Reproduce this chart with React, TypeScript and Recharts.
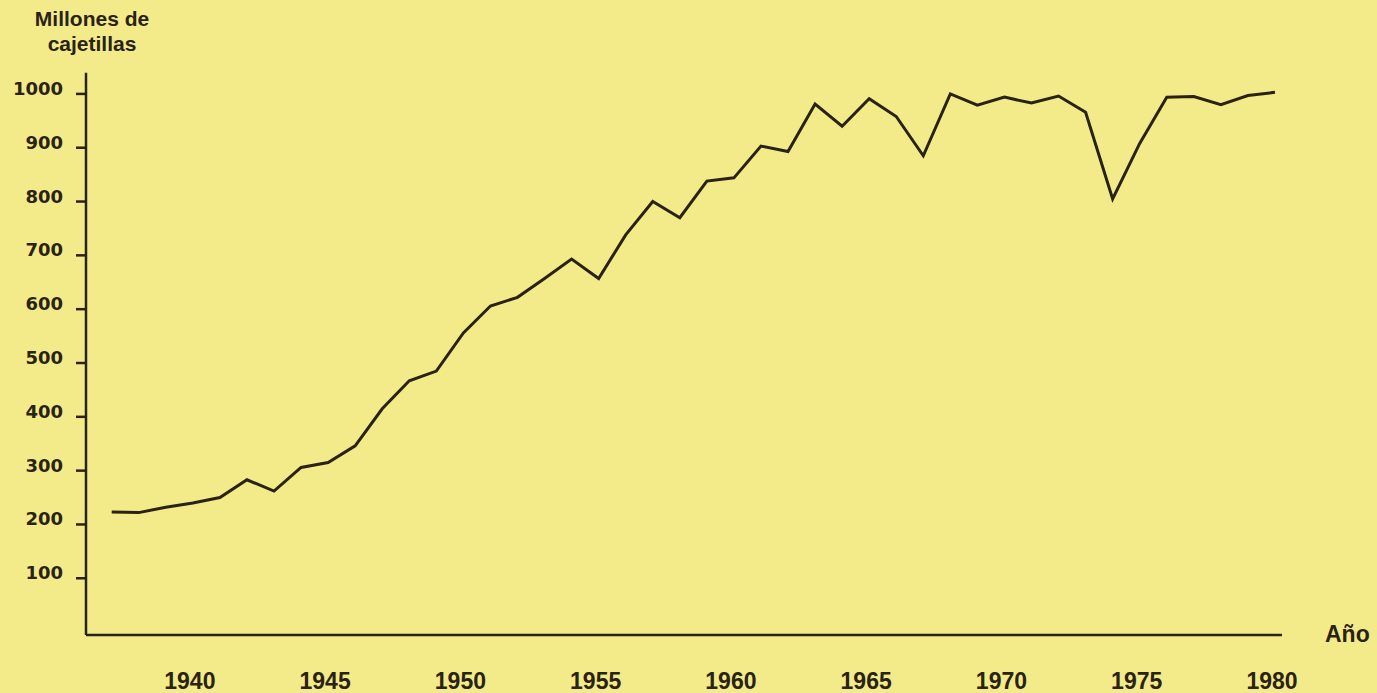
import { LineChart, Line, XAxis, YAxis } from 'recharts';

const INK = '#2a2314';
const PAPER = '#f3eb8a';

// consumo anual (millones de cajetillas)
const years = [
  1937, 1938, 1939, 1940, 1941, 1942, 1943, 1944, 1945, 1946,
  1947, 1948, 1949, 1950, 1951, 1952, 1953, 1954, 1955, 1956,
  1957, 1958, 1959, 1960, 1961, 1962, 1963, 1964, 1965, 1966,
  1967, 1968, 1969, 1970, 1971, 1972, 1973, 1974, 1975, 1976,
  1977, 1978, 1979, 1980,
];
const packs = [
  223, 222, 232, 240, 250, 283, 262, 306, 315, 346,
  415, 467, 485, 556, 606, 622, 657, 693, 657, 738,
  800, 770, 838, 844, 903, 893, 981, 940, 991, 958,
  885, 1000, 979, 994, 983, 996, 966, 805, 908, 994,
  995, 980, 997, 1003,
];
const yearTicks = [1940, 1945, 1950, 1955, 1960, 1965, 1970, 1975, 1980];
const packTicks = [100, 200, 300, 400, 500, 600, 700, 800, 900, 1000];

const data = years.map((year, i) => ({ year, packs: packs[i] }));

const YearTick = ({ x, y, payload }: any) => (
  <text
    x={x - 3}
    y={y + 54}
    textAnchor="middle"
    fill={INK}
    fontFamily="'Liberation Sans', Arial, sans-serif"
    fontWeight={700}
    fontSize={23}
  >
    {payload.value}
  </text>
);

const PackTick = ({ x, y, payload }: any) => (
  <text
    x={x}
    y={y + 1}
    textAnchor="end"
    fill={INK}
    fontFamily="'DejaVu Sans', sans-serif"
    fontWeight={700}
    fontSize={18}
  >
    {payload.value}
  </text>
);

const renderTitle = () => (
  <text
    textAnchor="middle"
    fill={INK}
    fontFamily="'Liberation Sans', Arial, sans-serif"
    fontWeight={700}
    fontSize={21}
  >
    <tspan x={92} y={26}>Millones de</tspan>
    <tspan x={92} y={51}>cajetillas</tspan>
  </text>
);

const renderYearLabel = (props: any) => {
  const vb = props.viewBox || {};
  return (
    <text
      x={vb.x + vb.width + 43}
      y={vb.y + 7}
      fill={INK}
      fontFamily="'Liberation Sans', Arial, sans-serif"
      fontWeight={700}
      fontSize={23}
    >
      Año
    </text>
  );
};

export default function App() {
  return (
    <div style={{ position: 'absolute', left: 0, top: 0, width: 1377, height: 693, background: PAPER }}>
      <LineChart
        width={1377}
        height={693}
        data={data}
        margin={{ top: 72.7, right: 95, bottom: 0, left: 0 }}
      >
        <XAxis
          dataKey="year"
          type="number"
          domain={[1936.05, 1980.26]}
          allowDataOverflow
          ticks={yearTicks}
          height={58}
          tickLine={false}
          tickSize={0}
          tickMargin={0}
          tick={<YearTick />}
          axisLine={{ stroke: INK, strokeWidth: 2.5 }}
          label={{ content: renderYearLabel }}
        />
        <YAxis
          type="number"
          domain={[-5.4, 1039.4]}
          allowDataOverflow
          ticks={packTicks}
          width={86}
          tickSize={10}
          tickMargin={13}
          tickLine={{ stroke: INK, strokeWidth: 2.5 }}
          tick={<PackTick />}
          axisLine={{ stroke: INK, strokeWidth: 2.5 }}
          label={{ content: renderTitle }}
        />
        <Line
          type="linear"
          dataKey="packs"
          stroke={INK}
          strokeWidth={3}
          dot={false}
          isAnimationActive={false}
        />
      </LineChart>
    </div>
  );
}
